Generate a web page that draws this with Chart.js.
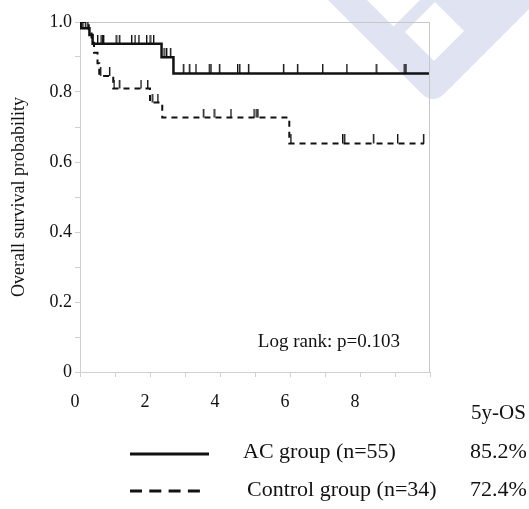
<!DOCTYPE html>
<html>
<head>
<meta charset="utf-8">
<script src="https://cdn.jsdelivr.net/npm/chart.js@4.4.0/dist/chart.umd.min.js"></script>
<style>
  html, body { margin: 0; padding: 0; background: #fff; }
  #wrap { width: 529px; height: 509px; }
</style>
</head>
<body>
<div id="wrap"><canvas id="osChart" width="529" height="509"></canvas></div>
<script>
// KM steps: time (years) and survival after the step
const acTimes = [0, 0.03, 0.27, 0.36, 2.33, 2.67, 9.97];
const acSurv  = [1.0, 0.982, 0.963, 0.938, 0.899, 0.853, 0.853];
const ctrlTimes = [0, 0.25, 0.33, 0.40, 0.50, 0.55, 0.95, 2.0, 2.35, 5.98, 9.83];
const ctrlSurv  = [1.0, 0.971, 0.941, 0.912, 0.882, 0.846, 0.810, 0.770, 0.727, 0.653, 0.653];

// censored patients
const acCensorTimes = [0.08, 0.15, 0.22,
  0.5, 0.6, 0.64, 0.67, 1.03, 1.12, 1.47, 1.57, 1.68, 1.9, 2.0, 2.1,
  2.4, 2.47, 2.58,
  2.95, 3.12, 3.31, 3.69, 3.74, 3.98, 4.5, 4.56, 4.81, 5.81, 6.21, 6.93, 7.62, 8.46, 9.26, 9.31];
const acCensorSurv = [0.982, 0.982, 0.982,
  0.938, 0.938, 0.938, 0.938, 0.938, 0.938, 0.938, 0.938, 0.938, 0.938, 0.938, 0.938,
  0.899, 0.899, 0.899,
  0.853, 0.853, 0.853, 0.853, 0.853, 0.853, 0.853, 0.853, 0.853, 0.853, 0.853, 0.853, 0.853, 0.853, 0.853, 0.853];
const ctrlCensorTimes = [0.58, 0.84, 0.97, 1.12, 1.74, 1.93, 2.06, 2.22,
  3.52, 3.83, 4.31, 4.97, 5.03, 5.08, 6.02, 7.5, 7.55, 8.38, 9.07, 9.81];
const ctrlCensorSurv = [0.846, 0.846, 0.810, 0.810, 0.810, 0.810, 0.770, 0.770,
  0.727, 0.727, 0.727, 0.727, 0.727, 0.727, 0.653, 0.653, 0.653, 0.653, 0.653, 0.653];

const groupLabels = ['AC group (n=55)', 'Control group (n=34)'];
const osValues = ['85.2%', '72.4%'];
const osHeader = '5y-OS';
const logRankText = 'Log rank: p=0.103';

const serif = '"Liberation Serif", "Times New Roman", serif';
const ink = '#111';
const axisGrey = '#d0d0d0';

function toPoints(xs, ys) {
  return xs.map((x, i) => ({ x: x, y: ys[i] }));
}

// small upward tick used as censor mark
function censorMark() {
  const c = document.createElement('canvas');
  c.width = 3; c.height = 18;
  const g = c.getContext('2d');
  g.fillStyle = ink;
  g.fillRect(1, 0, 1.4, 9);
  return c;
}
const tick = censorMark();

// faint logo in the top right corner
const watermark = {
  id: 'watermark',
  beforeDraw(chart) {
    const ctx = chart.ctx;
    ctx.save();
    ctx.fillStyle = 'rgb(224,227,241)';
    ctx.beginPath();
    ctx.moveTo(328, 0);
    ctx.lineTo(421, 93);
    ctx.quadraticCurveTo(433, 105, 445, 93);
    ctx.lineTo(538, 0);
    ctx.lineTo(433, -105);
    ctx.closePath();
    ctx.fill();
    ctx.fillStyle = '#fff';
    ctx.beginPath();
    ctx.moveTo(367, 0);
    ctx.lineTo(420, 0);
    ctx.lineTo(393.5, 26.5);
    ctx.closePath();
    ctx.fill();
    ctx.beginPath();
    ctx.moveTo(405, 32);
    ctx.lineTo(435, 2);
    ctx.lineTo(464, 31);
    ctx.lineTo(434, 61);
    ctx.closePath();
    ctx.fill();
    ctx.restore();
  },
  beforeDatasetsDraw(chart) {
    const { ctx, chartArea: a } = chart;
    ctx.save();
    ctx.strokeStyle = '#c8c8c8';
    ctx.lineWidth = 1;
    ctx.beginPath();
    ctx.moveTo(a.left, Math.round(a.top) + 0.5);
    ctx.lineTo(Math.round(a.right) - 0.5, Math.round(a.top) + 0.5);
    ctx.lineTo(Math.round(a.right) - 0.5, a.bottom);
    ctx.stroke();
    ctx.restore();
  }
};

// log rank note + the legend table under the plot
const notes = {
  id: 'notes',
  afterDraw(chart) {
    const ctx = chart.ctx;
    const xs = chart.scales.x, ys = chart.scales.y;
    ctx.save();
    ctx.fillStyle = ink;
    ctx.textBaseline = 'middle';
    ctx.textAlign = 'left';
    ctx.font = '19px ' + serif;
    ctx.fillText(logRankText, xs.getPixelForValue(5.08), ys.getPixelForValue(0.085));

    ctx.font = '21px ' + serif;
    ctx.fillText(osHeader, 471, 413);

    ctx.font = '22px ' + serif;
    ctx.strokeStyle = ink;
    ctx.lineWidth = 3;
    ctx.beginPath();
    ctx.moveTo(130, 454);
    ctx.lineTo(209, 454);
    ctx.stroke();
    ctx.fillText(groupLabels[0], 243, 452);
    ctx.fillText(osValues[0], 470, 452);

    ctx.setLineDash([12, 7.3]);
    ctx.beginPath();
    ctx.moveTo(130, 491);
    ctx.lineTo(200, 491);
    ctx.stroke();
    ctx.setLineDash([]);
    ctx.fillText(groupLabels[1], 247, 490);
    ctx.fillText(osValues[1], 470, 490);
    ctx.restore();
  }
};

const ctx = document.getElementById('osChart').getContext('2d');
new Chart(ctx, {
  type: 'line',
  data: {
    datasets: [
      {
        label: groupLabels[0],
        data: toPoints(acTimes, acSurv),
        stepped: true,
        borderColor: ink,
        borderWidth: 2.5,
        pointRadius: 0,
        fill: false
      },
      {
        label: groupLabels[1],
        data: toPoints(ctrlTimes, ctrlSurv),
        stepped: true,
        borderColor: ink,
        borderWidth: 2,
        borderDash: [6, 5],
        pointRadius: 0,
        fill: false
      },
      {
        label: 'AC censored',
        data: toPoints(acCensorTimes, acCensorSurv),
        showLine: false,
        pointStyle: tick,
        pointRadius: 5
      },
      {
        label: 'Control censored',
        data: toPoints(ctrlCensorTimes, ctrlCensorSurv),
        showLine: false,
        pointStyle: tick,
        pointRadius: 5
      }
    ]
  },
  options: {
    responsive: false,
    animation: false,
    layout: { padding: { top: 22, right: 99, bottom: 97, left: 0 } },
    plugins: { legend: { display: false }, tooltip: { enabled: false } },
    scales: {
      x: {
        type: 'linear',
        min: 0,
        max: 10,
        afterFit: s => { s.height = 40; },
        border: { color: axisGrey },
        grid: { drawOnChartArea: false, color: axisGrey, tickLength: 5 },
        ticks: {
          stepSize: 1,
          autoSkip: false,
          maxRotation: 0,
          padding: 14,
          labelOffset: -5,
          color: ink,
          font: { family: serif, size: 18 },
          callback: v => (v % 2 === 0 && v < 10) ? String(v) : ''
        }
      },
      y: {
        min: 0,
        max: 1,
        afterFit: s => { s.width = 80; },
        border: { color: axisGrey },
        grid: { drawOnChartArea: false, color: axisGrey, tickLength: 5 },
        ticks: {
          stepSize: 0.1,
          autoSkip: false,
          padding: 3,
          color: ink,
          font: { family: serif, size: 18 },
          callback: v => {
            const k = Math.round(v * 10);
            if (k % 2) return '';
            return k === 0 ? '0' : (k / 10).toFixed(1);
          }
        },
        title: {
          display: true,
          text: 'Overall survival probability',
          color: ink,
          font: { family: serif, size: 18 },
          padding: { top: 8, bottom: 0 }
        }
      }
    }
  },
  plugins: [watermark, notes]
});
</script>
</body>
</html>
